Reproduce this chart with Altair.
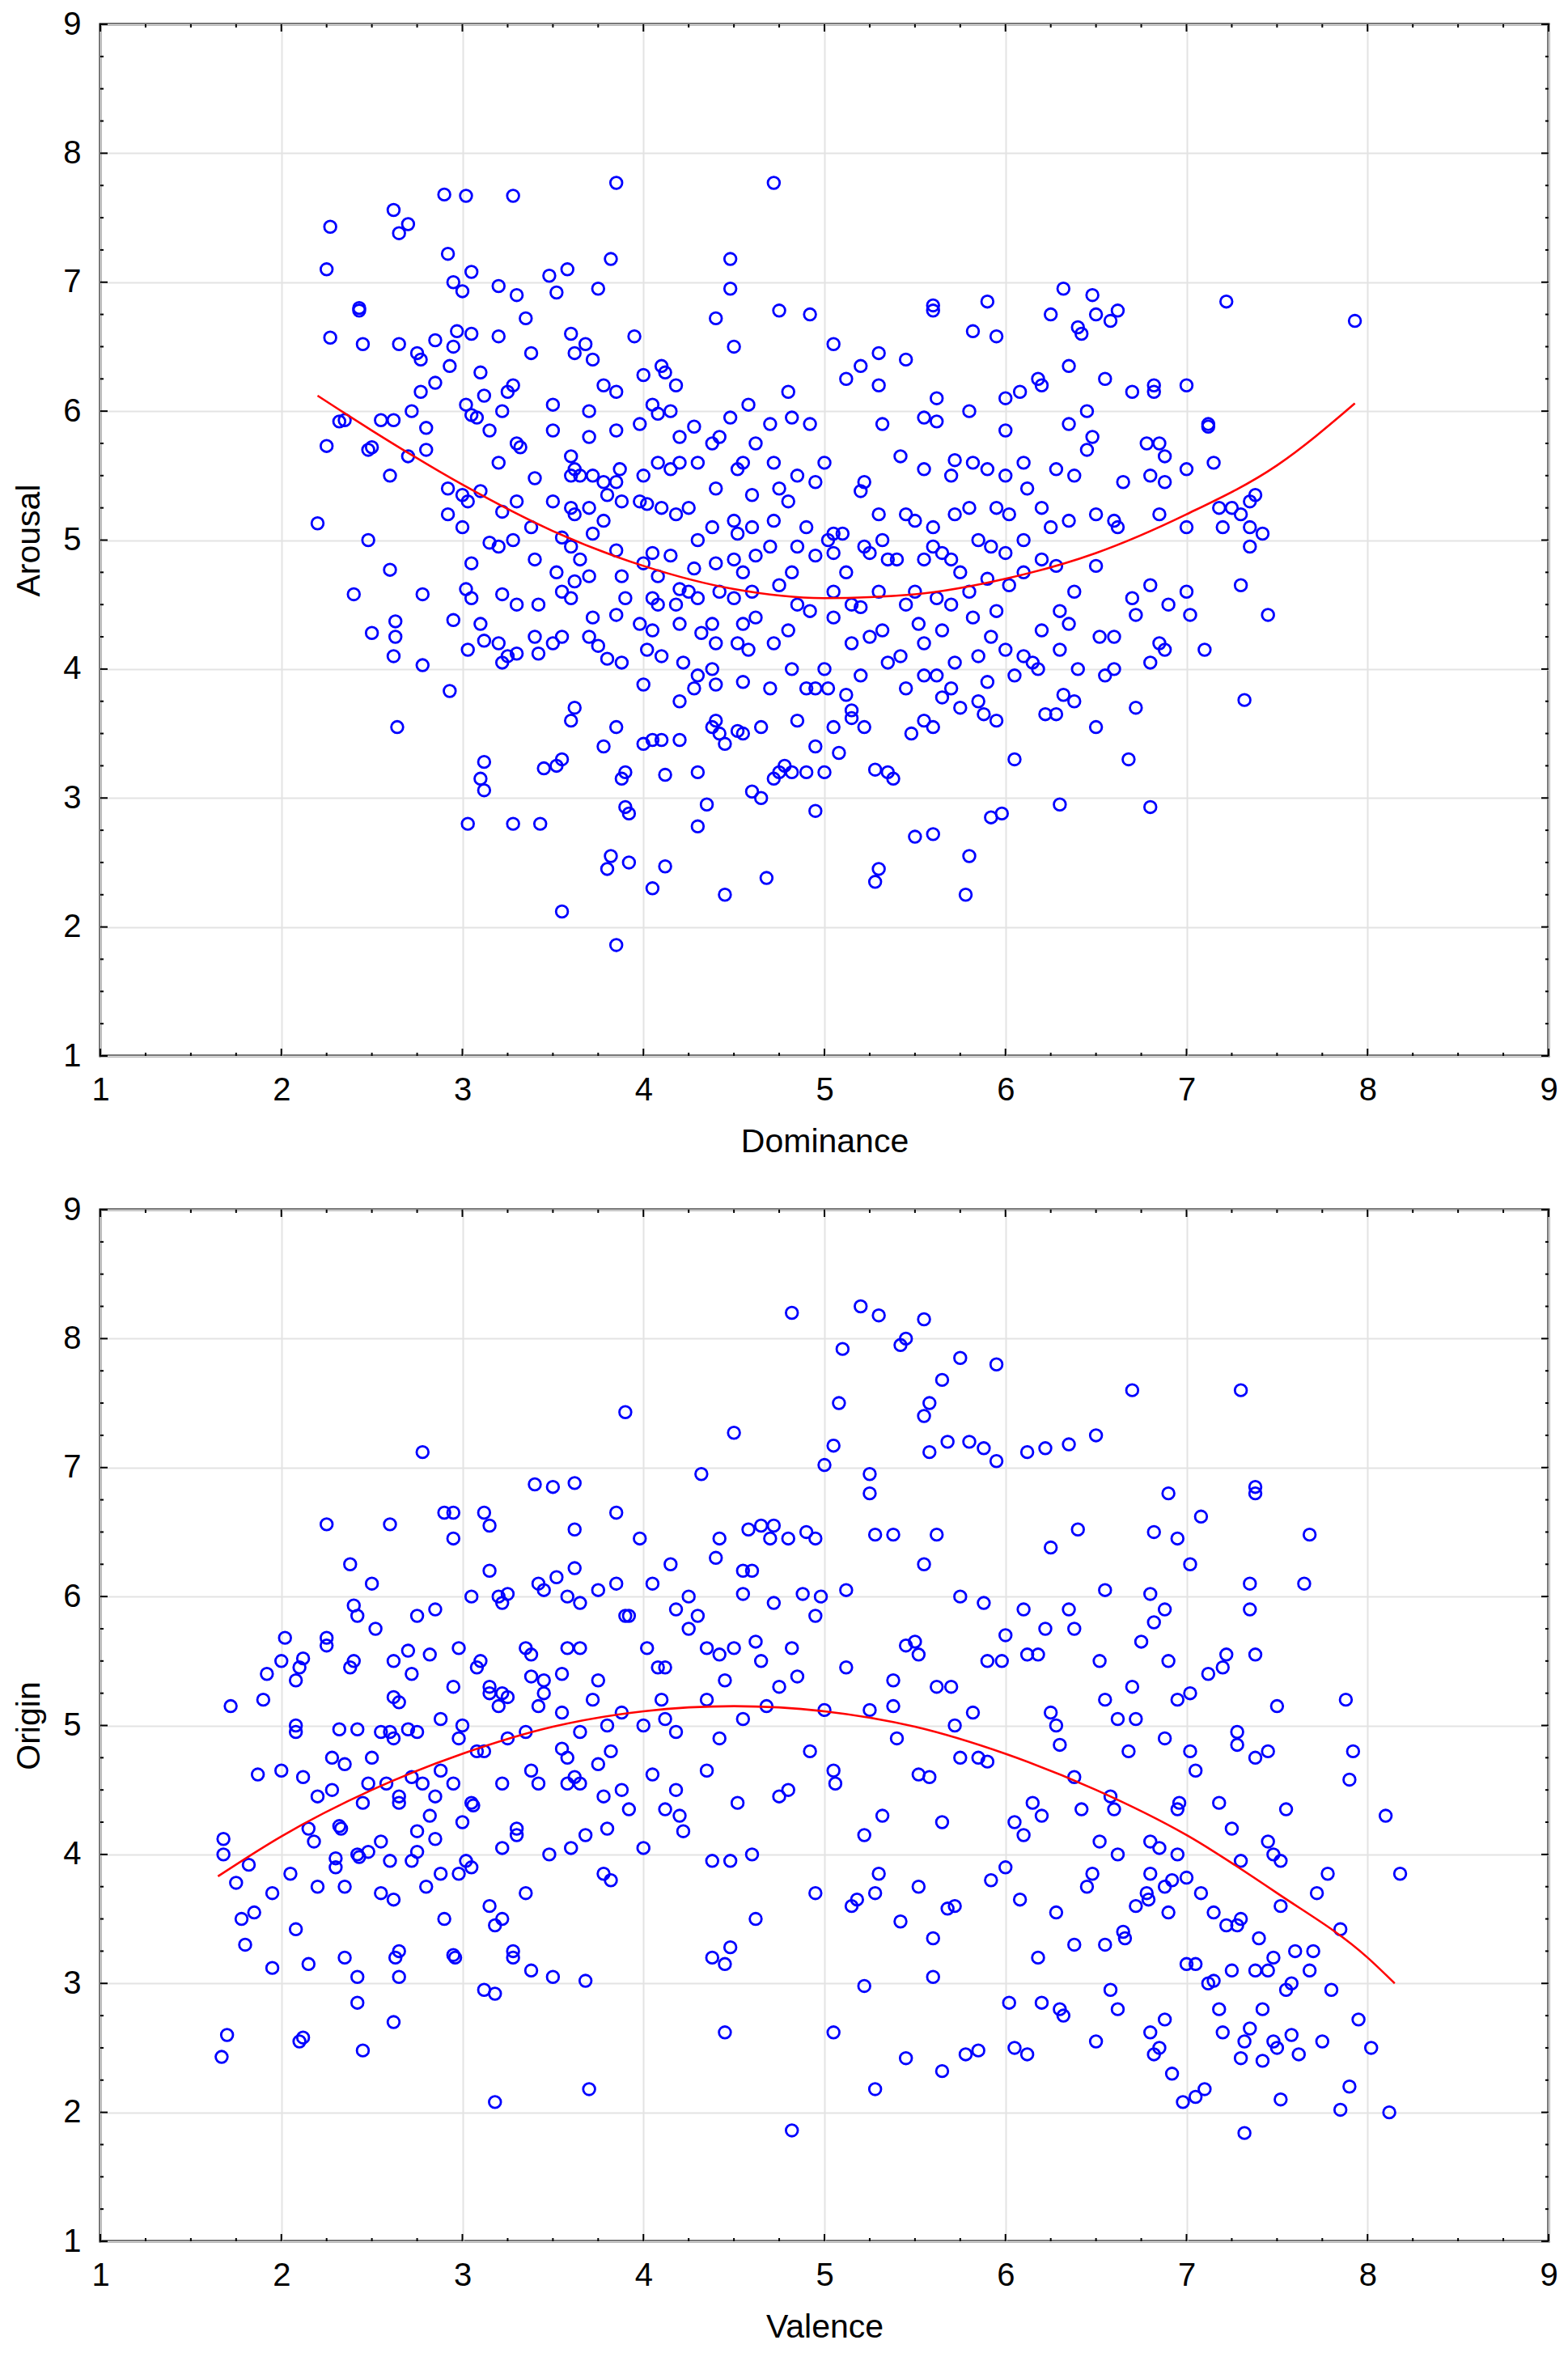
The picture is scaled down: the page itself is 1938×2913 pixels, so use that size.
import altair as alt
import pandas as pd

# ---------------- data: top panel (Dominance vs Arousal) ----------------
dominance_arousal = [
    (2.2, 5.13), (2.25, 7.1), (2.27, 7.43), (2.27, 6.57), (2.25, 5.73), (2.32, 5.92), (2.35, 5.93),
    (2.4, 4.58), (2.43, 6.8), (2.43, 6.78), (2.45, 6.52), (2.48, 5.7), (2.5, 5.72), (2.48, 5.0),
    (2.5, 4.28), (2.55, 5.93), (2.6, 4.77), (2.62, 7.56), (2.65, 7.38), (2.7, 7.45), (2.6, 5.5),
    (2.62, 5.93), (2.63, 4.25), (2.63, 4.37), (2.62, 4.1), (2.64, 3.55), (2.65, 6.52), (2.7, 5.65),
    (2.72, 6.0), (2.75, 6.45), (2.77, 6.4), (2.77, 6.15), (2.8, 5.87), (2.8, 5.7), (2.85, 6.22),
    (2.85, 6.55), (2.78, 4.58), (2.78, 4.03), (2.9, 7.68), (2.92, 7.22), (2.95, 7.0), (2.95, 6.5),
    (2.93, 6.35), (2.97, 6.62), (2.92, 5.4), (2.92, 5.2), (2.95, 4.38), (2.93, 3.83),
    (3.02, 7.67), (3.05, 7.08), (3.0, 6.93), (3.05, 6.6), (3.02, 6.05), (3.05, 5.97), (3.08, 5.95),
    (3.0, 5.35), (3.03, 5.3), (3.0, 5.1), (3.05, 4.82), (3.02, 4.62), (3.05, 4.55), (3.03, 4.15),
    (3.03, 2.8), (3.1, 6.3), (3.12, 6.12), (3.15, 5.85), (3.1, 5.38), (3.15, 4.98), (3.1, 4.35),
    (3.12, 4.22), (3.1, 3.15), (3.12, 3.28), (3.12, 3.06), (3.2, 6.97), (3.2, 6.58), (3.22, 6.0),
    (3.25, 6.15), (3.2, 5.6), (3.22, 5.22), (3.2, 4.95), (3.22, 4.58), (3.2, 4.2), (3.22, 4.05),
    (3.25, 4.1), (3.28, 7.67), (3.3, 6.9), (3.28, 6.2), (3.3, 5.75), (3.32, 5.72), (3.3, 5.3),
    (3.28, 5.0), (3.3, 4.5), (3.3, 4.12), (3.28, 2.8), (3.35, 6.72), (3.38, 6.45), (3.4, 5.48),
    (3.38, 5.1), (3.4, 4.85), (3.42, 4.5), (3.4, 4.25), (3.42, 4.12), (3.45, 3.23), (3.43, 2.8),
    (3.48, 7.05), (3.52, 6.92), (3.5, 6.05), (3.5, 5.85), (3.5, 5.3), (3.55, 5.02), (3.52, 4.75),
    (3.55, 4.6), (3.5, 4.2), (3.55, 4.25), (3.52, 3.25), (3.55, 3.3), (3.55, 2.12), (3.58, 7.1),
    (3.6, 6.6), (3.62, 6.45), (3.6, 5.65), (3.62, 5.55), (3.6, 5.5), (3.65, 5.5), (3.6, 5.25),
    (3.62, 5.2), (3.6, 4.95), (3.65, 4.85), (3.62, 4.68), (3.6, 4.55), (3.62, 3.7), (3.6, 3.6),
    (3.68, 6.52), (3.72, 6.4), (3.7, 6.0), (3.7, 5.8), (3.72, 5.5), (3.7, 5.25), (3.72, 5.05),
    (3.7, 4.72), (3.72, 4.4), (3.7, 4.25), (3.75, 6.95), (3.78, 6.2), (3.78, 5.45), (3.8, 5.35),
    (3.78, 5.15), (3.75, 4.18), (3.8, 4.08), (3.78, 3.4), (3.8, 2.45), (3.82, 2.55), (3.85, 7.77),
    (3.82, 7.18), (3.85, 6.15), (3.85, 5.85), (3.87, 5.55), (3.85, 5.45), (3.88, 5.3), (3.85, 4.92),
    (3.88, 4.72), (3.9, 4.55), (3.85, 4.42), (3.88, 4.05), (3.85, 3.55), (3.88, 3.15), (3.9, 3.2),
    (3.9, 2.93), (3.92, 2.88), (3.85, 1.86), (3.92, 2.5), (3.95, 6.58), (4.0, 6.28), (3.98, 5.9),
    (4.0, 5.5), (3.98, 5.3), (4.02, 5.28), (4.0, 4.82), (3.98, 4.35), (4.02, 4.15), (4.0, 3.88),
    (4.0, 3.42), (4.05, 3.45), (4.05, 6.05), (4.08, 5.98), (4.1, 6.35), (4.12, 6.3), (4.08, 5.6),
    (4.1, 5.25), (4.05, 4.9), (4.08, 4.72), (4.05, 4.55), (4.08, 4.5), (4.05, 4.3), (4.1, 4.1),
    (4.05, 2.3), (4.12, 3.18), (4.12, 2.47), (4.1, 3.45), (4.18, 6.2), (4.15, 6.0), (4.2, 5.8),
    (4.15, 5.55), (4.2, 5.6), (4.18, 5.2), (4.15, 4.88), (4.2, 4.62), (4.18, 4.5), (4.2, 4.35),
    (4.22, 4.05), (4.2, 3.75), (4.2, 3.45), (4.28, 5.88), (4.3, 5.6), (4.25, 5.25), (4.3, 5.0),
    (4.28, 4.78), (4.25, 4.6), (4.3, 4.55), (4.32, 4.28), (4.3, 3.95), (4.28, 3.85), (4.3, 3.2),
    (4.3, 2.78), (4.35, 2.95), (4.4, 6.72), (4.38, 5.75), (4.42, 5.8), (4.4, 5.4), (4.38, 5.1),
    (4.4, 4.82), (4.42, 4.6), (4.38, 4.35), (4.4, 4.2), (4.38, 4.0), (4.4, 3.88), (4.38, 3.55),
    (4.45, 3.42), (4.42, 3.5), (4.45, 2.25), (4.4, 3.6), (4.48, 7.18), (4.48, 6.95), (4.5, 6.5),
    (4.48, 5.95), (4.52, 5.55), (4.55, 5.6), (4.5, 5.15), (4.52, 5.05), (4.5, 4.85), (4.55, 4.75),
    (4.5, 4.55), (4.55, 4.35), (4.52, 4.2), (4.55, 3.9), (4.52, 3.52), (4.55, 3.5), (4.58, 6.05),
    (4.62, 5.75), (4.6, 5.35), (4.6, 5.1), (4.62, 4.88), (4.6, 4.6), (4.62, 4.4), (4.58, 4.15),
    (4.6, 3.05), (4.65, 3.0), (4.68, 2.38), (4.65, 3.55), (4.72, 7.77), (4.7, 5.9), (4.72, 5.6),
    (4.75, 5.4), (4.72, 5.15), (4.7, 4.95), (4.75, 4.65), (4.72, 4.2), (4.7, 3.85), (4.72, 3.15),
    (4.75, 3.2), (4.78, 3.25), (4.75, 6.78), (4.8, 6.15), (4.82, 5.95), (4.85, 5.5), (4.8, 5.3),
    (4.85, 4.95), (4.82, 4.75), (4.85, 4.5), (4.8, 4.3), (4.82, 4.0), (4.85, 3.6), (4.82, 3.2),
    (4.9, 3.2), (4.92, 6.75), (4.92, 5.9), (4.95, 5.45), (4.9, 5.1), (4.95, 4.88), (4.92, 4.45),
    (4.95, 3.85), (4.9, 3.85), (4.95, 2.9), (4.95, 3.4), (5.0, 3.2), (5.05, 6.52), (5.0, 5.6),
    (5.02, 5.0), (5.05, 5.05), (5.05, 4.9), (5.05, 4.6), (5.05, 4.4), (5.0, 4.0), (5.02, 3.85),
    (5.05, 3.55), (5.08, 3.35), (5.12, 6.25), (5.1, 5.05), (5.12, 4.75), (5.15, 4.5), (5.15, 4.2),
    (5.12, 3.8), (5.15, 3.62), (5.15, 3.68), (5.2, 6.35), (5.22, 5.45), (5.2, 5.38), (5.25, 4.9),
    (5.22, 4.95), (5.2, 4.48), (5.25, 4.25), (5.2, 3.95), (5.22, 3.55), (5.28, 3.22), (5.28, 2.35),
    (5.3, 2.45), (5.3, 6.45), (5.3, 6.2), (5.32, 5.9), (5.3, 5.2), (5.32, 5.0), (5.3, 4.6),
    (5.35, 4.85), (5.32, 4.3), (5.35, 4.05), (5.35, 3.2), (5.38, 3.15), (5.45, 6.4), (5.42, 5.65),
    (5.45, 5.2), (5.4, 4.85), (5.45, 4.5), (5.42, 4.1), (5.45, 3.85), (5.48, 3.5), (5.5, 2.7),
    (5.55, 5.95), (5.55, 5.55), (5.5, 5.15), (5.55, 4.85), (5.5, 4.6), (5.52, 4.35), (5.55, 4.2),
    (5.55, 3.95), (5.55, 3.6), (5.6, 6.82), (5.6, 6.78), (5.62, 6.1), (5.62, 5.92), (5.6, 5.1),
    (5.6, 4.95), (5.65, 4.9), (5.62, 4.55), (5.65, 4.3), (5.62, 3.95), (5.65, 3.78), (5.6, 3.55),
    (5.6, 2.72), (5.7, 5.5), (5.72, 5.2), (5.7, 4.85), (5.75, 4.75), (5.7, 4.5), (5.72, 4.05),
    (5.7, 3.85), (5.75, 3.7), (5.72, 5.62), (5.78, 2.25), (5.8, 2.55), (5.82, 6.62), (5.8, 6.0),
    (5.82, 5.6), (5.8, 5.25), (5.85, 5.0), (5.8, 4.6), (5.82, 4.4), (5.85, 4.1), (5.88, 3.65),
    (5.85, 3.75), (5.9, 6.85), (5.9, 5.55), (5.95, 5.25), (5.92, 4.95), (5.9, 4.7), (5.95, 4.45),
    (5.92, 4.25), (5.9, 3.9), (5.95, 3.6), (5.92, 2.85), (5.98, 2.88), (5.95, 6.58), (6.0, 6.1),
    (6.0, 5.85), (6.0, 5.5), (6.02, 5.2), (6.0, 4.9), (6.02, 4.65), (6.0, 4.15), (6.05, 3.95),
    (6.05, 3.3), (6.08, 6.15), (6.1, 5.6), (6.12, 5.4), (6.1, 5.0), (6.1, 4.75), (6.1, 4.1),
    (6.15, 4.05), (6.18, 6.25), (6.2, 6.2), (6.2, 5.25), (6.2, 4.85), (6.2, 4.3), (6.18, 4.0),
    (6.22, 3.65), (6.25, 6.75), (6.28, 5.55), (6.25, 5.1), (6.28, 4.8), (6.3, 4.45), (6.3, 4.15),
    (6.32, 3.8), (6.3, 2.95), (6.28, 3.65), (6.32, 6.95), (6.35, 6.35), (6.35, 5.9), (6.38, 5.5),
    (6.35, 5.15), (6.38, 4.6), (6.35, 4.35), (6.4, 4.0), (6.38, 3.75), (6.4, 6.65), (6.42, 6.6),
    (6.45, 6.0), (6.45, 5.7), (6.48, 6.9), (6.5, 6.75), (6.48, 5.8), (6.5, 5.2), (6.5, 4.8),
    (6.52, 4.25), (6.55, 3.95), (6.5, 3.55), (6.55, 6.25), (6.58, 6.7), (6.62, 6.78), (6.6, 5.15),
    (6.62, 5.1), (6.6, 4.25), (6.6, 4.0), (6.7, 6.15), (6.65, 5.45), (6.7, 4.55), (6.72, 4.42),
    (6.72, 3.7), (6.68, 3.3), (6.78, 5.75), (6.8, 5.5), (6.82, 6.2), (6.82, 6.15), (6.8, 4.65),
    (6.8, 4.05), (6.8, 2.93), (6.85, 5.75), (6.88, 5.65), (6.88, 5.45), (6.85, 5.2), (6.88, 4.15),
    (6.85, 4.2), (6.9, 4.5), (7.0, 6.2), (7.0, 5.55), (7.0, 5.1), (7.0, 4.6), (7.02, 4.42),
    (7.1, 4.15), (7.12, 5.9), (7.12, 5.88), (7.15, 5.6), (7.18, 5.25), (7.22, 6.85), (7.2, 5.1),
    (7.25, 5.25), (7.3, 5.2), (7.3, 4.65), (7.32, 3.76), (7.35, 5.3), (7.35, 5.1), (7.35, 4.95),
    (7.38, 5.35), (7.42, 5.05), (7.45, 4.42), (7.93, 6.7),
]

# quadratic fit curve
dominance_fit_x = [2.2, 2.5, 3.0, 3.5, 4.0, 4.5, 5.0, 5.5, 6.0, 6.5, 7.0, 7.5, 7.93]
arousal_fit_y = [6.12, 5.85, 5.43, 5.07, 4.8, 4.62, 4.55, 4.58, 4.7, 4.9, 5.2, 5.58, 6.06]

# ---------------- data: bottom panel (Valence vs Origin) ----------------
valence_origin = [
    (1.67, 2.43), (1.7, 2.6), (1.68, 4.12), (1.68, 4.0), (1.72, 5.15), (1.75, 3.78), (1.78, 3.5),
    (1.82, 3.92), (1.8, 3.3), (1.85, 3.55), (1.87, 4.62), (1.9, 5.2), (1.92, 5.4), (1.95, 3.7),
    (1.95, 3.12), (2.02, 5.68), (2.0, 5.5), (2.0, 4.65), (2.05, 3.85), (2.08, 3.42), (2.1, 2.55),
    (2.12, 2.58), (2.08, 4.95), (2.08, 5.0), (2.08, 5.35), (2.1, 5.45), (2.12, 5.52), (2.12, 4.6),
    (2.15, 4.2), (2.15, 3.15), (2.18, 4.1), (2.2, 4.45), (2.2, 3.75), (2.25, 6.56), (2.25, 5.68),
    (2.25, 5.62), (2.28, 4.75), (2.28, 4.5), (2.32, 4.97), (2.3, 3.97), (2.3, 3.9), (2.32, 4.22),
    (2.33, 4.2), (2.35, 4.7), (2.35, 3.75), (2.35, 3.2), (2.38, 6.25), (2.38, 5.45), (2.4, 5.93),
    (2.4, 5.5), (2.42, 5.85), (2.42, 4.97), (2.42, 4.0), (2.43, 3.98), (2.42, 2.85), (2.45, 2.48),
    (2.42, 3.05), (2.45, 4.4), (2.48, 4.55), (2.48, 4.02), (2.5, 6.1), (2.52, 5.75), (2.5, 4.75),
    (2.55, 4.1), (2.55, 3.7), (2.55, 4.95), (2.58, 4.55), (2.6, 6.56), (2.62, 5.5), (2.62, 5.22),
    (2.65, 5.18), (2.6, 4.95), (2.62, 4.9), (2.65, 4.45), (2.65, 4.4), (2.6, 3.95), (2.62, 3.65),
    (2.65, 3.25), (2.63, 3.2), (2.65, 3.05), (2.62, 2.7), (2.7, 5.58), (2.72, 5.4), (2.7, 4.97),
    (2.75, 4.95), (2.72, 4.6), (2.75, 4.18), (2.72, 3.95), (2.75, 4.02), (2.78, 7.12), (2.75, 5.85),
    (2.78, 4.55), (2.8, 3.75), (2.85, 5.9), (2.82, 5.55), (2.88, 5.05), (2.85, 4.45), (2.82, 4.3),
    (2.88, 4.65), (2.85, 4.12), (2.88, 3.85), (2.9, 6.65), (2.9, 3.5), (2.95, 6.65), (2.95, 6.45),
    (2.98, 5.6), (2.95, 5.3), (2.98, 4.9), (2.95, 4.55), (2.95, 3.22), (2.96, 3.2), (2.98, 3.85),
    (3.0, 4.25), (3.0, 5.0), (3.05, 6.0), (3.05, 4.4), (3.06, 4.38), (3.02, 3.95), (3.05, 3.9),
    (3.08, 4.8), (3.1, 5.5), (3.08, 5.45), (3.12, 6.65), (3.12, 2.95), (3.15, 6.55), (3.15, 6.2),
    (3.15, 5.25), (3.15, 5.3), (3.12, 4.8), (3.15, 3.6), (3.18, 3.45), (3.18, 2.92), (3.18, 2.08),
    (3.2, 6.0), (3.22, 5.95), (3.22, 5.25), (3.2, 5.15), (3.25, 5.22), (3.25, 6.02), (3.25, 4.9),
    (3.22, 4.55), (3.22, 4.05), (3.22, 3.5), (3.28, 3.25), (3.28, 3.2), (3.3, 4.2), (3.3, 4.15),
    (3.35, 5.6), (3.38, 5.55), (3.38, 5.38), (3.35, 4.95), (3.38, 4.65), (3.35, 3.7), (3.38, 3.1),
    (3.4, 6.87), (3.42, 6.1), (3.42, 5.15), (3.42, 4.55), (3.45, 6.05), (3.45, 5.35), (3.45, 5.25),
    (3.48, 4.0), (3.5, 3.05), (3.5, 6.85), (3.52, 6.15), (3.55, 5.4), (3.55, 5.1), (3.55, 4.82),
    (3.58, 6.0), (3.58, 5.6), (3.58, 4.75), (3.58, 4.55), (3.6, 4.05), (3.62, 6.52), (3.62, 6.22),
    (3.62, 4.6), (3.65, 5.95), (3.65, 5.6), (3.65, 4.95), (3.65, 4.55), (3.68, 4.15), (3.68, 3.02),
    (3.7, 2.18), (3.62, 6.88), (3.72, 5.2), (3.75, 6.05), (3.75, 5.35), (3.75, 4.7), (3.78, 4.45),
    (3.78, 3.85), (3.8, 4.2), (3.8, 5.0), (3.82, 4.8), (3.82, 3.8), (3.85, 6.65), (3.85, 6.1),
    (3.88, 5.1), (3.88, 4.5), (3.9, 7.43), (3.9, 5.85), (3.92, 5.85), (3.92, 4.35), (3.98, 6.45),
    (4.0, 4.05), (4.0, 5.0), (4.02, 5.6), (4.05, 6.1), (4.05, 4.62), (4.08, 5.45), (4.1, 5.2),
    (4.12, 5.45), (4.12, 5.05), (4.12, 4.35), (4.15, 6.25), (4.18, 5.9), (4.18, 4.95), (4.18, 4.5),
    (4.2, 4.3), (4.22, 4.18), (4.25, 6.0), (4.25, 5.75), (4.3, 5.85), (4.32, 6.95), (4.35, 5.6),
    (4.35, 5.2), (4.35, 4.65), (4.38, 3.2), (4.38, 3.95), (4.4, 6.3), (4.42, 6.45), (4.42, 5.55),
    (4.42, 4.9), (4.45, 5.35), (4.45, 3.15), (4.45, 2.62), (4.48, 3.95), (4.48, 3.28), (4.5, 7.27),
    (4.5, 5.6), (4.52, 4.4), (4.55, 6.2), (4.55, 6.02), (4.55, 5.05), (4.58, 6.52), (4.6, 6.2),
    (4.62, 5.65), (4.6, 4.0), (4.62, 3.5), (4.65, 6.55), (4.65, 5.5), (4.68, 5.15), (4.7, 6.45),
    (4.72, 6.55), (4.72, 5.95), (4.75, 5.3), (4.75, 4.45), (4.8, 6.45), (4.82, 5.6), (4.8, 4.5),
    (4.82, 8.2), (4.82, 1.86), (4.85, 5.38), (4.88, 6.02), (4.9, 6.5), (4.92, 4.8), (4.95, 6.45),
    (4.95, 5.85), (4.95, 3.7), (4.98, 6.0), (5.0, 7.02), (5.0, 5.12), (5.05, 2.62), (5.05, 4.65),
    (5.06, 4.55), (5.05, 7.17), (5.08, 7.5), (5.1, 7.92), (5.12, 6.05), (5.12, 5.45), (5.15, 3.6),
    (5.18, 3.65), (5.2, 8.25), (5.22, 4.15), (5.22, 2.98), (5.25, 6.95), (5.25, 6.8), (5.28, 6.48),
    (5.25, 5.12), (5.28, 2.18), (5.3, 8.18), (5.28, 3.7), (5.3, 3.85), (5.32, 4.3), (5.38, 6.48),
    (5.38, 5.15), (5.38, 5.35), (5.4, 4.9), (5.42, 7.95), (5.42, 3.48), (5.45, 2.42), (5.45, 8.0),
    (5.45, 5.62), (5.5, 5.65), (5.52, 5.55), (5.52, 4.62), (5.52, 3.75), (5.55, 8.15), (5.55, 7.4),
    (5.55, 6.25), (5.58, 7.5), (5.58, 7.12), (5.58, 4.6), (5.6, 3.35), (5.6, 3.05), (5.65, 7.68),
    (5.62, 6.48), (5.62, 5.3), (5.65, 4.25), (5.65, 2.32), (5.68, 7.2), (5.68, 3.58), (5.7, 5.3),
    (5.72, 5.0), (5.72, 3.6), (5.75, 7.85), (5.75, 6.0), (5.75, 4.75), (5.78, 2.45), (5.8, 7.2),
    (5.82, 5.1), (5.85, 4.75), (5.85, 2.48), (5.88, 7.15), (5.88, 5.95), (5.9, 5.5), (5.9, 4.72),
    (5.92, 3.8), (5.95, 7.8), (5.95, 7.05), (5.98, 5.5), (6.0, 5.7), (6.0, 3.9), (6.02, 2.85),
    (6.05, 4.25), (6.05, 2.5), (6.08, 3.65), (6.1, 5.9), (6.1, 4.15), (6.12, 5.55), (6.12, 7.12),
    (6.12, 2.45), (6.15, 4.4), (6.18, 5.55), (6.18, 3.2), (6.2, 4.3), (6.2, 2.85), (6.22, 7.15),
    (6.22, 5.75), (6.25, 6.38), (6.25, 5.1), (6.28, 5.0), (6.28, 3.55), (6.3, 4.85), (6.3, 2.8),
    (6.32, 2.75), (6.35, 7.18), (6.35, 5.9), (6.38, 5.75), (6.38, 4.6), (6.38, 3.3), (6.4, 6.52),
    (6.42, 4.35), (6.45, 3.75), (6.48, 3.85), (6.5, 7.25), (6.5, 2.55), (6.52, 5.5), (6.52, 4.1),
    (6.55, 6.05), (6.55, 5.2), (6.55, 3.3), (6.58, 4.45), (6.58, 2.95), (6.6, 4.35), (6.62, 5.05),
    (6.62, 4.0), (6.62, 2.8), (6.65, 3.4), (6.66, 3.35), (6.68, 4.8), (6.7, 7.6), (6.7, 5.3),
    (6.72, 5.05), (6.72, 3.6), (6.75, 5.65), (6.78, 3.7), (6.79, 3.65), (6.8, 6.02), (6.8, 4.1),
    (6.8, 3.85), (6.8, 2.62), (6.82, 6.5), (6.82, 5.8), (6.82, 2.45), (6.85, 4.05), (6.85, 2.5),
    (6.88, 5.9), (6.88, 4.9), (6.88, 3.75), (6.88, 2.72), (6.9, 6.8), (6.9, 5.5), (6.9, 3.55),
    (6.92, 3.8), (6.92, 2.3), (6.95, 6.45), (6.95, 5.2), (6.95, 4.35), (6.96, 4.4), (6.95, 4.0),
    (6.98, 2.08), (7.0, 3.15), (7.0, 3.82), (7.02, 6.25), (7.02, 5.25), (7.02, 4.8), (7.05, 4.65),
    (7.05, 3.15), (7.05, 2.12), (7.08, 6.62), (7.08, 3.7), (7.1, 2.18), (7.12, 5.4), (7.12, 3.0),
    (7.15, 3.55), (7.15, 3.02), (7.18, 4.4), (7.18, 2.8), (7.2, 2.62), (7.2, 5.45), (7.22, 5.55),
    (7.22, 3.45), (7.25, 4.2), (7.25, 3.1), (7.28, 4.95), (7.28, 4.85), (7.28, 3.45), (7.3, 7.6),
    (7.3, 3.95), (7.3, 3.5), (7.3, 2.42), (7.32, 1.84), (7.32, 2.55), (7.35, 6.1), (7.35, 5.9),
    (7.35, 2.65), (7.38, 6.85), (7.38, 6.8), (7.38, 5.55), (7.38, 4.75), (7.38, 3.1), (7.4, 3.35),
    (7.42, 2.8), (7.42, 2.4), (7.45, 4.8), (7.45, 4.1), (7.45, 3.1), (7.48, 4.0), (7.48, 3.2),
    (7.48, 2.55), (7.5, 5.15), (7.5, 2.5), (7.52, 3.95), (7.52, 3.6), (7.52, 2.1), (7.55, 4.35),
    (7.55, 2.95), (7.58, 3.0), (7.58, 2.6), (7.6, 3.25), (7.62, 2.45), (7.65, 6.1), (7.68, 6.48),
    (7.68, 3.1), (7.7, 3.25), (7.72, 3.7), (7.75, 2.55), (7.78, 3.85), (7.8, 2.95), (7.85, 3.42),
    (7.85, 2.02), (7.88, 5.2), (7.9, 4.58), (7.9, 2.2), (7.92, 4.8), (7.95, 2.72), (8.02, 2.5),
    (8.1, 4.3), (8.12, 2.0), (8.18, 3.85),
]

valence_fit_x = [1.65, 2.0, 2.5, 3.0, 3.5, 4.0, 4.5, 5.0, 5.5, 6.0, 6.5, 7.0, 7.5, 8.0, 8.15]
origin_fit_y = [3.83, 4.14, 4.5, 4.78, 4.99, 5.11, 5.15, 5.11, 4.99, 4.78, 4.5, 4.15, 3.7, 3.2, 3.0]

# axis ticks (decoration): integer majors and quarter-step minors
major_ticks = [1, 2, 3, 4, 5, 6, 7, 8, 9]
minor_ticks = [m + q for m in range(1, 9) for q in (0.25, 0.5, 0.75)]

W, H = 1790, 1275
FONT = "Liberation Sans"
DOMAIN = [1, 9]


def scale():
    return alt.Scale(domain=DOMAIN, nice=False, zero=False)


def tick_layers():
    layers = []
    for vals, ln in ((major_ticks, 9), (minor_ticks, 4)):
        xdf = pd.DataFrame({"x": vals})
        ydf = pd.DataFrame({"y": vals})
        bx = alt.Chart(xdf).mark_rule(color="black", strokeWidth=2)
        by = alt.Chart(ydf).mark_rule(color="black", strokeWidth=2)
        xs = alt.X("x:Q", scale=scale())
        ys = alt.Y("y:Q", scale=scale())
        layers.append(bx.encode(x=xs, y=alt.value(H), y2=alt.value(H - ln)))
        layers.append(bx.encode(x=xs, y=alt.value(0), y2=alt.value(ln)))
        layers.append(by.encode(y=ys, x=alt.value(0), x2=alt.value(ln)))
        layers.append(by.encode(y=ys, x=alt.value(W), x2=alt.value(W - ln)))
    return layers


def panel(points, fit_x, fit_y, xtitle, ytitle):
    pdf = pd.DataFrame(points, columns=["x", "y"])
    fdf = pd.DataFrame({"x": fit_x, "y": fit_y})
    xenc = alt.X(
        "x:Q",
        scale=scale(),
        axis=alt.Axis(values=major_ticks, format="d", title=xtitle, labelFlush=False,
                      labelPadding=22, titlePadding=24),
    )
    yenc = alt.Y(
        "y:Q",
        scale=scale(),
        axis=alt.Axis(values=major_ticks, format="d", title=ytitle, labelFlush=False,
                      labelPadding=24, titlePadding=20),
    )
    pts = alt.Chart(pdf).mark_point(
        shape="circle", filled=False, color="#0000ff", size=215, strokeWidth=2.8, opacity=1
    ).encode(x=xenc, y=yenc)
    fit = alt.Chart(fdf).mark_line(color="#ff0000", strokeWidth=2.6, interpolate="monotone").encode(
        x=alt.X("x:Q", scale=scale()), y=alt.Y("y:Q", scale=scale())
    )
    return alt.layer(pts, fit, *tick_layers()).properties(width=W, height=H)


top = panel(dominance_arousal, dominance_fit_x, arousal_fit_y, "Dominance", "Arousal")
bottom = panel(valence_origin, valence_fit_x, origin_fit_y, "Valence", "Origin")

chart = (
    alt.vconcat(top, bottom, spacing=40)
    .properties(padding={"left": 6, "top": 0, "right": 0, "bottom": 0}, background="white")
    .configure_view(stroke="black", strokeWidth=3)
    .configure_axis(
        domain=False,
        ticks=False,
        grid=True,
        gridColor="#e3e3e3",
        gridWidth=2,
        labelFont=FONT,
        titleFont=FONT,
        labelFontSize=40,
        titleFontSize=41,
        titleFontWeight="normal",
        labelColor="black",
        titleColor="black",
    )
)

chart.save("out.html", embed_options={"renderer": "svg", "actions": False})
